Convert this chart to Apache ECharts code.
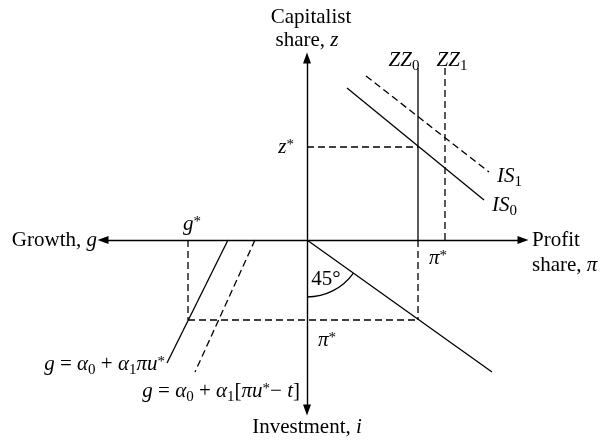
<!DOCTYPE html>
<html>
<head>
<meta charset="utf-8">
<script src="https://cdn.jsdelivr.net/npm/echarts@6/dist/echarts.min.js"></script>
<style>
  html, body { margin: 0; padding: 0; background: #fff; }
  #chart { width: 600px; height: 440px; }
</style>
</head>
<body>
<div id="chart"></div>
<script>
// units: origin where the two axes cross, x to the right, y upward
let is0 = [[40, 152], [177, 40]];
let is1 = [[59, 164], [182, 68]];
let zz0Upper = [[111, 172], [111, 0]];
let zz0Lower = [[111, 0], [111, -80]];
let zz1 = [[138, 172], [138, 0]];
let zStar = [[0, 93], [111, 93]];
let line45 = [[0, 0], [185, -132]];
let piStar = [[-119, -80], [111, -80]];
let gStar = [[-119, 0], [-119, -80]];
let invest0 = [[-79, 0], [-140, -123]];
let invest1 = [[-52, 0], [-112, -132]];
let arcRadius = 57;

const serif = 'Liberation Serif';
const dash = [7, 4];

function seg(data, dashed){
    return {
        type: 'line',
        data: data,
        symbol: 'none',
        silent: true,
        animation: false,
        lineStyle: { color: '#000', width: 1.3, type: dashed ? dash : 'solid' }
    };
}

const rich = {
    i: { fontFamily: serif, fontStyle: 'italic', fontSize: 21, lineHeight: 28, color: '#000' },
    n: { fontFamily: serif, fontSize: 21, lineHeight: 28, color: '#000' },
    sub: { fontFamily: serif, fontSize: 15, lineHeight: 15, verticalAlign: 'bottom', color: '#000' },
    sup: { fontFamily: serif, fontSize: 15, lineHeight: 15, verticalAlign: 'top', padding: [5, 0, 0, 0], color: '#000' }
};

function label(x, y, text, align){
    return {
        type: 'text',
        x: x,
        y: y,
        silent: true,
        style: {
            text: text,
            rich: rich,
            fontFamily: serif,
            fontSize: 21,
            lineHeight: 28,
            fill: '#000',
            align: align || 'center',
            verticalAlign: 'middle'
        }
    };
}

let myChart = echarts.init(document.getElementById('chart'));

let axisLine = {
    show: true,
    onZero: true,
    symbol: ['triangle', 'triangle'],
    symbolSize: [8, 11],
    lineStyle: { color: '#000', width: 1.4 }
};

let option = {
    backgroundColor: '#fff',
    animation: false,
    grid: { left: 103, right: 77, top: 58, bottom: 30 },
    xAxis: {
        type: 'value', min: -204, max: 216,
        axisLine: axisLine,
        axisTick: { show: false }, axisLabel: { show: false }, splitLine: { show: false }
    },
    yAxis: {
        type: 'value', min: -170, max: 182,
        axisLine: axisLine,
        axisTick: { show: false }, axisLabel: { show: false }, splitLine: { show: false }
    },
    series: [
        seg(is0, false),
        seg(is1, true),
        seg(zz0Upper, false),
        seg(zz0Lower, true),
        seg(zz1, true),
        seg(zStar, true),
        seg(line45, false),
        seg(piStar, true),
        seg(gStar, true),
        seg(invest0, false),
        seg(invest1, true),
        {
            type: 'custom',
            silent: true,
            data: [[0, 0]],
            renderItem: function(params, api){
                let c = api.coord([0, 0]);
                let e = api.coord(line45[1]);
                let r = api.size([arcRadius, 0])[0];
                let a = Math.atan2(e[1] - c[1], e[0] - c[0]);
                return {
                    type: 'arc',
                    shape: { cx: c[0], cy: c[1], r: r, startAngle: a, endAngle: Math.PI / 2 },
                    style: { stroke: '#000', fill: null, lineWidth: 1.3 }
                };
            }
        }
    ],
    graphic: [
        label(311, 17, 'Capitalist'),
        label(307, 40, 'share, {i|z}'),
        label(404, 60, '{i|ZZ}{sub|0}'),
        label(452, 60, '{i|ZZ}{sub|1}'),
        label(294, 147, '{i|z}{sup|*}', 'right'),
        label(497, 176, '{i|IS}{sub|1}', 'left'),
        label(492, 205, '{i|IS}{sub|0}', 'left'),
        label(532, 240, 'Profit', 'left'),
        label(532, 265, 'share, {i|π}', 'left'),
        label(438, 258, '{i|π}{sup|*}'),
        label(326, 279, '45°'),
        label(327, 340, '{i|π}{sup|*}'),
        label(307, 427, 'Investment, {i|i}'),
        label(97, 240, 'Growth, {i|g}', 'right'),
        label(192, 224, '{i|g}{sup|*}'),
        label(165, 364, '{i|g} = {i|α}{sub|0} + {i|α}{sub|1}{i|πu}{sup|*}', 'right'),
        label(300, 391, '{i|g} = {i|α}{sub|0} + {i|α}{sub|1}{n|[}{i|πu}{sup|*}{n|− }{i|t}{n|]}', 'right')
    ]
};

myChart.setOption(option);
</script>
</body>
</html>
